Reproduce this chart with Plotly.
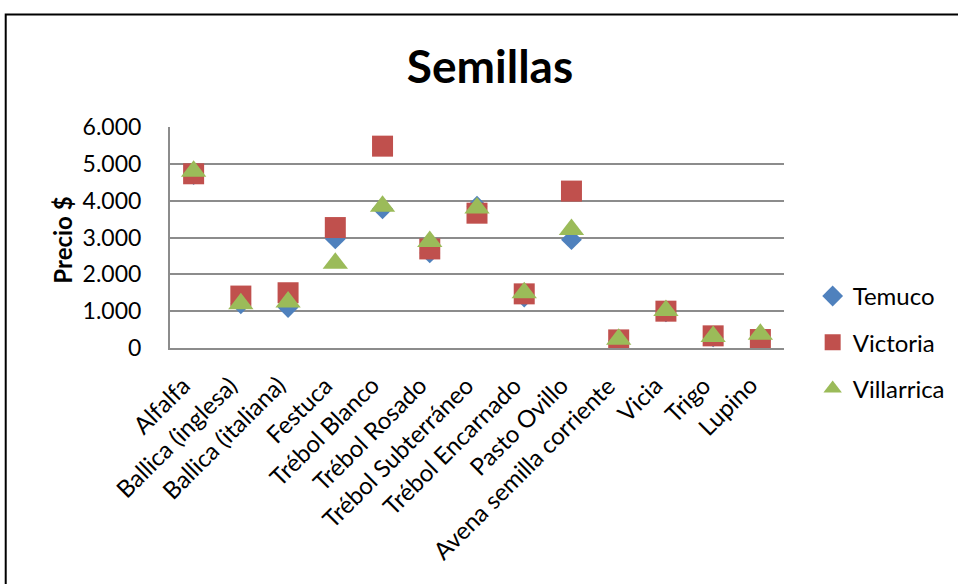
import plotly.graph_objects as go

categories = ["Alfalfa", "Ballica (inglesa)", "Ballica (italiana)", "Festuca",
              "Trébol Blanco", "Trébol Rosado", "Trébol Subterráneo",
              "Trébol Encarnado", "Pasto Ovillo", "Avena semilla corriente",
              "Vicia", "Trigo", "Lupino"]
temuco = [4710, 1200, 1100, 2960, 3780, 2580, 3850, 1380, 2940, 200, 980, 300, 200]
victoria = [4730, 1410, 1500, 3270, 5480, 2690, 3660, 1470, 4260, 220, 1000, 330, 230]
villarrica = [4800, 1200, 1250, 2300, 3850, 2890, 3800, 1500, 3220, 240, 1020, 310, 370]
y_ticks = [0, 1000, 2000, 3000, 4000, 5000, 6000]

FONT = "Lato"
L, R, T, B = 169.5, 784.3, 126.7, 348.3
W, H = 958, 584
pw, ph = R - L, B - T

def px_x(x):
    return (x - L) / pw

def px_y(y):
    return (B - y) / ph

fig = go.Figure()
series = [
    ("Temuco", temuco, "diamond", "#4F81BD", 16),
    ("Victoria", victoria, "square", "#C0504D", 21),
    ("Villarrica", villarrica, "triangle-up", "#9BBB59", 22),
]
for name, vals, sym, col, size in series:
    fig.add_trace(go.Scatter(
        x=categories, y=vals, name=name, mode="markers",
        legendgroup=name,
        marker=dict(symbol=sym, color=col, size=size, line=dict(width=0)),
    ))

annotations = [dict(text="<b>Precio $</b>", xref="paper", yref="paper",
                    x=px_x(62), y=px_y(240), textangle=-90, showarrow=False,
                    xanchor="center", yanchor="middle",
                    font=dict(family=FONT, size=24, color="black"))]
for c in categories:
    annotations.append(dict(text=c, xref="x", yref="paper", x=c, y=px_y(368),
                            xanchor="right", yanchor="top", textangle=-45,
                            showarrow=False, xshift=5,
                            font=dict(family=FONT, size=24, color="black")))

fig.update_layout(
    width=W, height=H,
    margin=dict(l=L, r=W - R, t=T, b=H - B, autoexpand=False),
    paper_bgcolor="white", plot_bgcolor="white",
    separators=",.",
    font=dict(family=FONT, size=24, color="black"),
    title=dict(text="<b>Semillas</b>", x=490 / W, xref="container", xanchor="center",
               y=1 - 67 / H, yref="container", yanchor="middle",
               font=dict(family=FONT, size=46, color="black")),
    showlegend=True,
    legend=dict(x=px_x(813), xanchor="left", y=px_y(274), yanchor="top",
                tracegroupgap=12, font=dict(family=FONT, size=24),
                bgcolor="rgba(0,0,0,0)"),
    xaxis=dict(type="category", categoryorder="array", categoryarray=categories,
               range=[-0.5, len(categories) - 0.5], autorange=False,
               showgrid=False, showticklabels=False,
               showline=True, linecolor="#8C8C8C", linewidth=2,
               zeroline=False, ticks=""),
    yaxis=dict(range=[0, 6000], autorange=False, tickvals=y_ticks, tickformat=",d",
               showgrid=True, gridcolor="#8C8C8C", gridwidth=2,
               showline=True, linecolor="#8C8C8C", linewidth=2,
               zeroline=False, ticks="", ticklabelstandoff=22,
               tickfont=dict(family=FONT, size=23)),
    shapes=[dict(type="rect", xref="paper", yref="paper",
                 x0=px_x(5), x1=px_x(1200), y0=px_y(800), y1=px_y(14),
                 line=dict(color="black", width=2), fillcolor="rgba(0,0,0,0)",
                 layer="below")],
    annotations=annotations,
)

fig.write_html("out.html", config={"displayModeBar": False})
with open("out.html", encoding="utf-8") as f:
    html = f.read()
html = html.replace("<head>", "<head><style>html,body{margin:0;padding:0;overflow:hidden}</style>", 1)
with open("out.html", "w", encoding="utf-8") as f:
    f.write(html)
